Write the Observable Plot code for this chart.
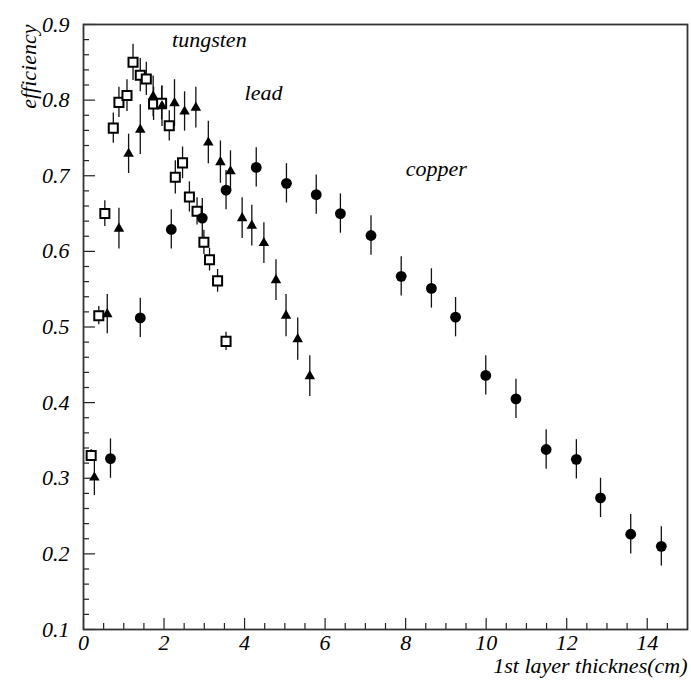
<!DOCTYPE html>
<html>
<head>
<meta charset="utf-8">
<script src="https://cdn.jsdelivr.net/npm/d3@7"></script>
<script src="https://cdn.jsdelivr.net/npm/@observablehq/plot@0.6"></script>
<style>
  body { margin: 0; background: #fff; }
</style>
</head>
<body>
<div id="chart"></div>
<script>
// Efficiency versus thickness of the first absorber layer, three materials.
const tungstenX   = [0.19, 0.38, 0.53, 0.74, 0.88, 1.08, 1.23, 1.41, 1.56, 1.74, 1.94, 2.13, 2.28, 2.46, 2.63, 2.82, 2.99, 3.13, 3.33, 3.54];
const tungstenY   = [0.330, 0.515, 0.650, 0.763, 0.797, 0.806, 0.850, 0.833, 0.828, 0.795, 0.796, 0.766, 0.698, 0.717, 0.672, 0.653, 0.612, 0.589, 0.561, 0.481];
const tungstenErr = [0.008, 0.012, 0.017, 0.020, 0.020, 0.021, 0.024, 0.022, 0.022, 0.022, 0.022, 0.020, 0.022, 0.021, 0.020, 0.018, 0.016, 0.015, 0.015, 0.012];

const leadX   = [0.27, 0.59, 0.88, 1.12, 1.41, 1.73, 1.95, 2.26, 2.51, 2.79, 3.10, 3.40, 3.65, 3.94, 4.18, 4.48, 4.78, 5.03, 5.32, 5.62];
const leadY   = [0.301, 0.517, 0.630, 0.729, 0.761, 0.805, 0.792, 0.796, 0.785, 0.790, 0.744, 0.718, 0.706, 0.644, 0.634, 0.611, 0.562, 0.515, 0.484, 0.435];
const leadErr = [0.024, 0.026, 0.027, 0.026, 0.033, 0.027, 0.027, 0.031, 0.026, 0.027, 0.028, 0.028, 0.027, 0.027, 0.027, 0.027, 0.027, 0.028, 0.028, 0.027];

const copperX   = [0.67, 1.41, 2.18, 2.95, 3.54, 4.29, 5.04, 5.78, 6.38, 7.14, 7.89, 8.64, 9.24, 9.99, 10.74, 11.49, 12.24, 12.84, 13.59, 14.35];
const copperY   = [0.326, 0.512, 0.629, 0.644, 0.681, 0.711, 0.690, 0.675, 0.650, 0.621, 0.567, 0.551, 0.513, 0.436, 0.405, 0.338, 0.325, 0.274, 0.226, 0.210];
const copperErr = [0.026, 0.026, 0.026, 0.026, 0.026, 0.026, 0.026, 0.026, 0.026, 0.026, 0.026, 0.026, 0.026, 0.026, 0.026, 0.026, 0.026, 0.026, 0.026, 0.026];

// Material labels placed in data coordinates
const labelText = ["tungsten", "lead", "copper"];
const labelX    = [2.2, 4.0, 8.0];
const labelY    = [0.87, 0.80, 0.70];

// Axis ticks
const xMajor = [0, 2, 4, 6, 8, 10, 12, 14];
const xMinor = d3.range(0.5, 15, 0.5).filter(v => v % 2 !== 0);
const yMajor = [0.1, 0.2, 0.3, 0.4, 0.5, 0.6, 0.7, 0.8, 0.9];
const yMinor = d3.range(6, 45).map(i => i / 50).filter(v => Math.abs(v * 10 - Math.round(v * 10)) > 1e-6);

const xTitle = "1st layer thicknes(cm)";
const yTitle = "efficiency";

const toRows = (xs, ys, es) => xs.map((x, i) => ({x, y: ys[i], e: es[i]}));
const tungsten = toRows(tungstenX, tungstenY, tungstenErr);
const lead = toRows(leadX, leadY, leadErr);
const copper = toRows(copperX, copperY, copperErr);
const labels = labelText.map((t, i) => ({t, x: labelX[i], y: labelY[i]}));

const W = 691, H = 680;
const mt = 24, mb = 51, ml = 83, mr = 4;
const innerH = H - mt - mb, innerW = W - ml - mr;
const font = "Liberation Serif";
const fs = 22;

const errBars = (data) => Plot.ruleX(data, {
  x: "x", y1: d => d.y - d.e, y2: d => d.y + d.e,
  stroke: "#111", strokeWidth: 1.3
});

const chart = Plot.plot({
  width: W,
  height: H,
  marginTop: mt,
  marginBottom: mb,
  marginLeft: ml,
  marginRight: mr,
  x: {domain: [0, 15], axis: null},
  y: {domain: [0.1, 0.9], axis: null},
  style: {fontFamily: font, fontStyle: "italic", fontSize: fs + "px", color: "#000", background: "#fff"},
  marks: [
    // inward ticks along the bottom and left axes
    Plot.tickX(xMajor, {x: d => d, insetTop: innerH - 11, stroke: "#222", strokeWidth: 1.2}),
    Plot.tickX(xMinor, {x: d => d, insetTop: innerH - 6, stroke: "#222", strokeWidth: 1.2}),
    Plot.tickY(yMajor, {y: d => d, insetRight: innerW - 12, stroke: "#222", strokeWidth: 1.2}),
    Plot.tickY(yMinor, {y: d => d, insetRight: innerW - 6, stroke: "#222", strokeWidth: 1.2}),
    Plot.frame({stroke: "#333", strokeWidth: 1.8}),

    // tick labels
    Plot.axisX({ticks: xMajor, tickSize: 0, tickPadding: 5, tickFormat: d => String(d), label: null,
      fontSize: fs, fontStyle: "italic", fontFamily: font}),
    Plot.axisY({ticks: yMajor, tickSize: 0, tickPadding: 14, tickFormat: d3.format(".1f"), label: null,
      fontSize: fs, fontStyle: "italic", fontFamily: font}),

    // axis titles
    Plot.text([xTitle], {frameAnchor: "bottom-right", textAnchor: "end", lineAnchor: "bottom",
      dy: 43, dx: 0, fontSize: fs, fontStyle: "italic", fontFamily: font}),
    Plot.text([yTitle], {frameAnchor: "top-left", textAnchor: "end", lineAnchor: "bottom",
      rotate: -90, dx: -48, dy: 0, fontSize: fs, fontStyle: "italic", fontFamily: font}),

    // material labels
    Plot.text(labels, {x: "x", y: "y", text: "t", textAnchor: "start", lineAnchor: "bottom",
      fontSize: fs, fontStyle: "italic", fontFamily: font}),

    // measurements with errors
    errBars(tungsten),
    errBars(lead),
    errBars(copper),
    Plot.dot(tungsten, {x: "x", y: "y", symbol: "square", r: 5.1, fill: "#fff", stroke: "#000", strokeWidth: 2}),
    Plot.dot(lead, {x: "x", y: "y", symbol: "triangle", r: 3.9, fill: "#000", stroke: "none"}),
    Plot.dot(copper, {x: "x", y: "y", symbol: "circle", r: 5.4, fill: "#000", stroke: "none"})
  ]
});

document.getElementById("chart").appendChild(chart);
</script>
</body>
</html>
